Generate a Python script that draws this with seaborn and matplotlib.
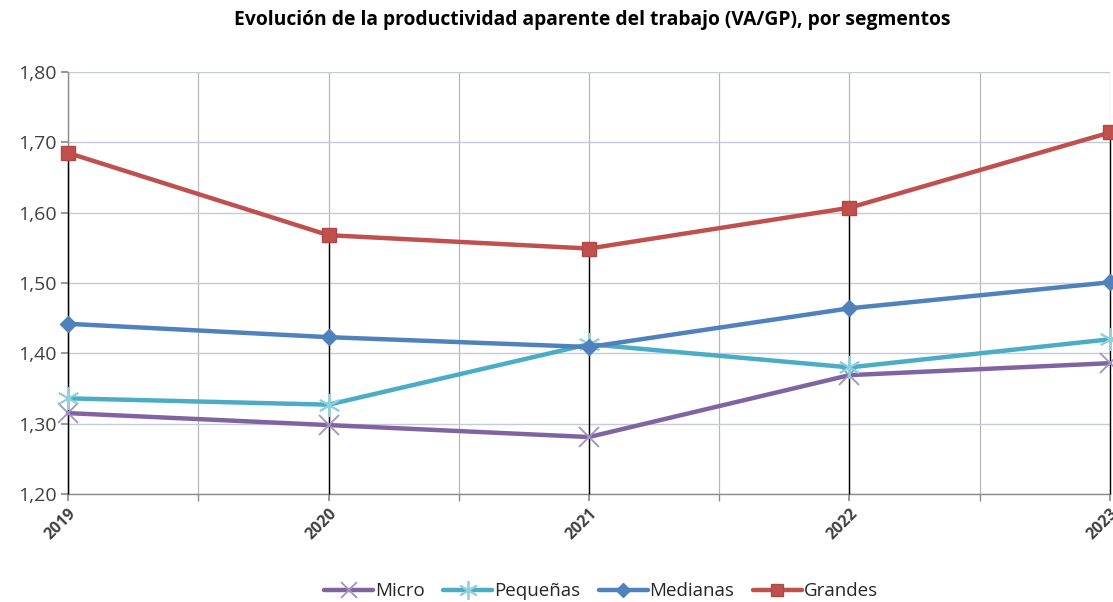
import pandas as pd
import matplotlib.pyplot as plt
from matplotlib.ticker import MultipleLocator, FuncFormatter
from matplotlib.lines import Line2D
import seaborn as sns

years = [2019, 2020, 2021, 2022, 2023]
micro = [1.315, 1.298, 1.281, 1.369, 1.386]
pequenas = [1.336, 1.327, 1.413, 1.380, 1.420]
medianas = [1.442, 1.423, 1.409, 1.464, 1.501]
grandes = [1.685, 1.568, 1.549, 1.607, 1.714]

segmentos = ['Micro', 'Pequeñas', 'Medianas', 'Grandes']
colores = {'Micro': '#8064A2', 'Pequeñas': '#4BACC6', 'Medianas': '#4F81BD', 'Grandes': '#C0504D'}
# marker, size, edge colour, edge width
estilos = {
    'Micro': ('x', 14, '#a393c2', 1.3),
    'Pequeñas': ((6, 2, 0), 16, '#8fd0e0', 1.3),
    'Medianas': ('D', 8, '#4F81BD', 1),
    'Grandes': ('s', 10, '#b04845', 1),
}

df = pd.DataFrame({'year': years, 'Micro': micro, 'Pequeñas': pequenas,
                   'Medianas': medianas, 'Grandes': grandes})
df_long = df.melt(id_vars='year', var_name='segmento', value_name='valor')

sns.set_theme(style='white')
plt.rcParams['font.family'] = ['Open Sans', 'DejaVu Sans']

fig = plt.figure(figsize=(11.13, 6.02), dpi=100)
ax = fig.add_axes([0.0611, 0.1794, 0.9362, 0.701])

# grid
ax.xaxis.set_major_locator(MultipleLocator(1))
ax.xaxis.set_minor_locator(MultipleLocator(0.5))
ax.yaxis.set_major_locator(MultipleLocator(0.1))
ax.grid(True, which='major', axis='y', color='#c5cbd9', lw=1)
ax.grid(True, which='both', axis='x', color='#b8b8b8', lw=0.9)

# drop lines from highest point down to axis
maximos = df_long.groupby('year')['valor'].max()
ax.vlines(maximos.index, 1.20, maximos.values, color='black', lw=1, zorder=2.6, clip_on=False)

for seg in segmentos:
    m, ms, mec, mew = estilos[seg]
    sub = df_long[df_long['segmento'] == seg]
    sns.lineplot(data=sub, x='year', y='valor', ax=ax, color=colores[seg], lw=3.2,
                 marker=m, markersize=ms, markeredgecolor=mec, markeredgewidth=mew,
                 zorder=3, legend=False, clip_on=False)

ax.set_xlim(2019, 2023)
ax.set_ylim(1.20, 1.80)
ax.set_xlabel('')
ax.set_ylabel('')

ax.yaxis.set_major_formatter(FuncFormatter(lambda v, p: f'{v:.2f}'.replace('.', ',')))
ax.tick_params(axis='y', labelsize=14, colors='#404040', length=5, color='#8c8c8c', left=True, pad=3)
ax.tick_params(axis='x', which='both', length=5, color='#8c8c8c', bottom=True)
ax.set_xticks(years)
ax.set_xticklabels([str(y) for y in years], rotation=45, ha='right', rotation_mode='anchor',
                   fontsize=11.5, fontweight='bold', color='#404040')

for s in ['top', 'right']:
    ax.spines[s].set_visible(False)
for s in ['left', 'bottom']:
    ax.spines[s].set_color('#8c8c8c')
    ax.spines[s].set_linewidth(1)

fig.text(0.532, 0.966, 'Evolución de la productividad aparente del trabajo (VA/GP), por segmentos',
         ha='center', va='center', fontsize=13.9, fontweight='bold', color='black')

handles = []
for seg in segmentos:
    m, ms, mec, mew = estilos[seg]
    handles.append(Line2D([0], [0], color=colores[seg], lw=3.2, marker=m,
                          markersize=ms * 0.85, markeredgecolor=mec, markeredgewidth=mew))
fig.legend(handles, segmentos, loc='center', bbox_to_anchor=(0.54, 0.018), ncol=4,
           frameon=False, fontsize=13.5, handlelength=2.6, handletextpad=0.1,
           columnspacing=1.0, labelcolor='#262626')

fig.savefig('out.png', dpi=100)
